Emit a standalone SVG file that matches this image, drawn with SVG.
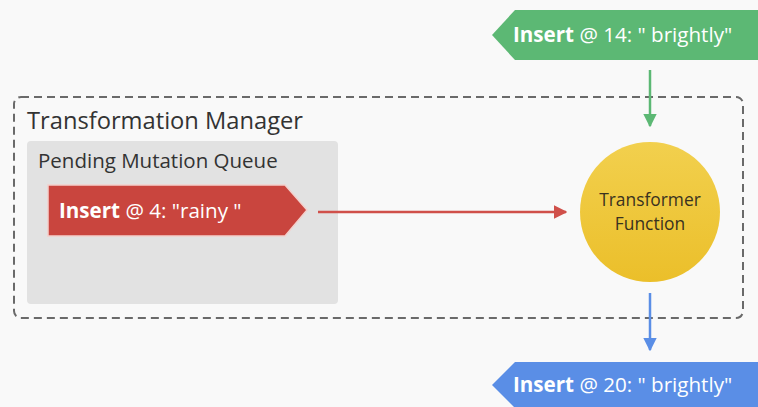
<svg xmlns="http://www.w3.org/2000/svg" width="758" height="407" viewBox="0 0 758 407">
<defs>
<style>
text{font-family:"Open Sans","Liberation Sans",sans-serif}
.ban{fill:#fff;font-size:20.6px}
.ban tspan.b{font-weight:bold}
.lbl{fill:#333;font-size:23.7px}
.sub{fill:#333;font-size:20.5px}
.fn{fill:#3a3220;font-size:17.4px;text-anchor:middle}
</style>
<linearGradient id="yg" x1="0" y1="0" x2="0" y2="1"><stop offset="0" stop-color="#f2d04e"/><stop offset="1" stop-color="#ebbf2a"/></linearGradient>
<marker id="ag" viewBox="0 0 10 10" refX="9" refY="5" markerWidth="5.5" markerHeight="5.5" orient="auto"><path d="M0,0L10,5L0,10z" fill="#5cb874"/></marker>
<marker id="ar" viewBox="0 0 10 10" refX="9" refY="5" markerWidth="5.5" markerHeight="5.5" orient="auto"><path d="M0,0L10,5L0,10z" fill="#d0504a"/></marker>
<marker id="ab" viewBox="0 0 10 10" refX="9" refY="5" markerWidth="5.5" markerHeight="5.5" orient="auto"><path d="M0,0L10,5L0,10z" fill="#5a8ee6"/></marker>
</defs>
<rect width="758" height="407" fill="#f9f9f9"/>
<g id="manager">
<rect x="14" y="97" width="729" height="221" rx="7" fill="none" stroke="#6a6a6a" stroke-width="2" stroke-dasharray="8,5"/>
<text class="lbl" x="27" y="129">Transformation Manager</text>
</g>
<g id="queue">
<rect x="27" y="141" width="311" height="163" rx="4" fill="#e2e2e2"/>
<text class="sub" x="38" y="168">Pending Mutation Queue</text>
</g>
<g id="pending">
<path d="M48,185H285L307,210L285,236H48Z" fill="#c9453e" stroke="#f3d0cc" stroke-width="1.5"/>
<text class="ban" x="59" y="218"><tspan class="b">Insert</tspan> @ 4: "rainy "</text>
</g>
<g id="incoming">
<path d="M758,10H515L492,35L515,60H758Z" fill="#5cb874"/>
<text class="ban" x="513" y="42"><tspan class="b">Insert</tspan> @ 14: " brightly"</text>
</g>
<g id="transformer">
<circle cx="650" cy="212" r="70" fill="url(#yg)"/>
<text class="fn" x="650" y="206">Transformer</text>
<text class="fn" x="650" y="230">Function</text>
</g>
<g id="outgoing">
<path d="M758,362H515L492,385L515,408H758Z" fill="#5a8ee6"/>
<text class="ban" x="513" y="392"><tspan class="b">Insert</tspan> @ 20: " brightly"</text>
</g>
<g id="connectors" stroke-width="2.5" fill="none">
<line x1="650" y1="70" x2="650" y2="126" stroke="#5cb874" marker-end="url(#ag)"/>
<line x1="318" y1="212" x2="566" y2="212" stroke="#d0504a" marker-end="url(#ar)"/>
<line x1="650" y1="293" x2="650" y2="350" stroke="#5a8ee6" marker-end="url(#ab)"/>
</g>
</svg>
